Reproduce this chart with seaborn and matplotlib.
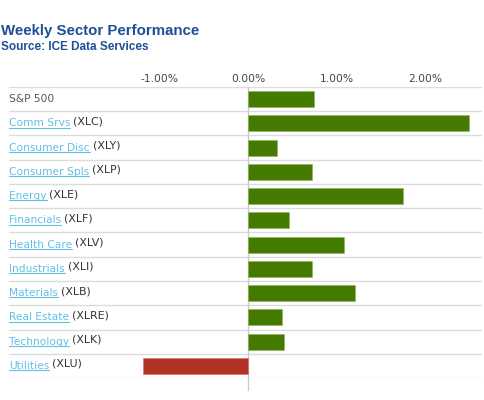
import matplotlib
matplotlib.use("Agg")
import matplotlib.pyplot as plt
from matplotlib.lines import Line2D
import numpy as np
import pandas as pd
import seaborn as sns

# Datos (variación semanal, %)
sectors = ["S&P 500", "Comm Srvs", "Consumer Disc", "Consumer Spls", "Energy",
           "Financials", "Health Care", "Industrials", "Materials",
           "Real Estate", "Technology", "Utilities"]
tickers = ["", "XLC", "XLY", "XLP", "XLE", "XLF", "XLV", "XLI", "XLB",
           "XLRE", "XLK", "XLU"]
weekly_change = [0.74, 2.49, 0.32, 0.72, 1.75, 0.46, 1.08, 0.72, 1.21,
                 0.38, 0.40, -1.19]
tick_values = [-1, 0, 1, 2]
tick_labels = ["-1.00%", "0.00%", "1.00%", "2.00%"]

GREEN = "#457a00"
RED = "#b03323"
BLUE_TITLE = "#1f4f97"
LINK = "#62c0e6"

df = pd.DataFrame({"sector": sectors, "ticker": tickers, "change": weekly_change})
df["sign"] = np.where(df["change"] >= 0, "up", "down")

sns.set_theme(style="white")
plt.rcParams["font.family"] = ["DejaVu Sans"]

fig = plt.figure(figsize=(4.84, 4.0), dpi=100)
ax = fig.add_axes([9 / 484, 22 / 400, 473 / 484, 291 / 400])

sns.barplot(data=df, x="change", y="sector", hue="sign",
            palette={"up": GREEN, "down": RED}, orient="h", dodge=False,
            width=0.66, saturation=1, legend=False, edgecolor="#8fb060",
            linewidth=0.4, ax=ax)
for p in ax.patches:
    if p.get_facecolor()[0] > 0.5:
        p.set_edgecolor("#d07060")

ax.set_xlim(-2.70, 2.64)
ax.set_ylim(len(sectors) - 0.5, -0.5)

# separadores de filas
for k in range(len(sectors) + 1):
    ax.axhline(k - 0.5, color="#dcdcdc", lw=1, zorder=0)
ax.plot([0, 0], [len(sectors) - 0.5 + 0.5, -0.5], color="#cccccc", lw=1,
        zorder=0, clip_on=False)

for s in ax.spines.values():
    s.set_visible(False)
ax.set_xlabel("")
ax.set_ylabel("")
ax.set_yticks([])
ax.xaxis.tick_top()
ax.set_xticks(tick_values)
ax.set_xticklabels(tick_labels)
ax.tick_params(axis="x", length=0, pad=2, labelsize=7.7, labelcolor="#444444")

# etiquetas de filas: nombre subrayado + ticker
fig.canvas.draw()
renderer = fig.canvas.get_renderer()
trans = ax.get_yaxis_transform()
inv = fig.transFigure.inverted()
x0 = 0.0
for i, (name, tk) in enumerate(zip(sectors, tickers)):
    if tk == "":
        ax.text(x0, i, name, transform=trans, va="center", ha="left",
                fontsize=7.7, color="#555555")
        continue
    t = ax.text(x0, i, name, transform=trans, va="center", ha="left",
                fontsize=7.7, color=LINK)
    bb = t.get_window_extent(renderer)
    (fx0, fy0) = inv.transform((bb.x0, bb.y0 + 0.8))
    (fx1, _) = inv.transform((bb.x1, bb.y0 + 0.8))
    fig.add_artist(Line2D([fx0, fx1], [fy0, fy0], color=LINK, lw=0.8,
                          transform=fig.transFigure))
    (tx, _) = ax.transAxes.inverted().transform((bb.x1 + 3, 0))
    ax.text(tx, i - 0.08, "(" + tk + ")", transform=trans, va="center",
            ha="left", fontsize=7.9, color="#333333")

fig.text(0.002, 1 - 31 / 400, "Weekly Sector Performance", fontsize=10.8,
         fontweight="bold", color=BLUE_TITLE, family="Liberation Sans",
         va="center", ha="left")
fig.text(0.002, 1 - 47 / 400, "Source: ICE Data Services", fontsize=8.5,
         fontweight="bold", color=BLUE_TITLE, family="Liberation Sans",
         va="center", ha="left")

fig.savefig("out.png", dpi=100)
